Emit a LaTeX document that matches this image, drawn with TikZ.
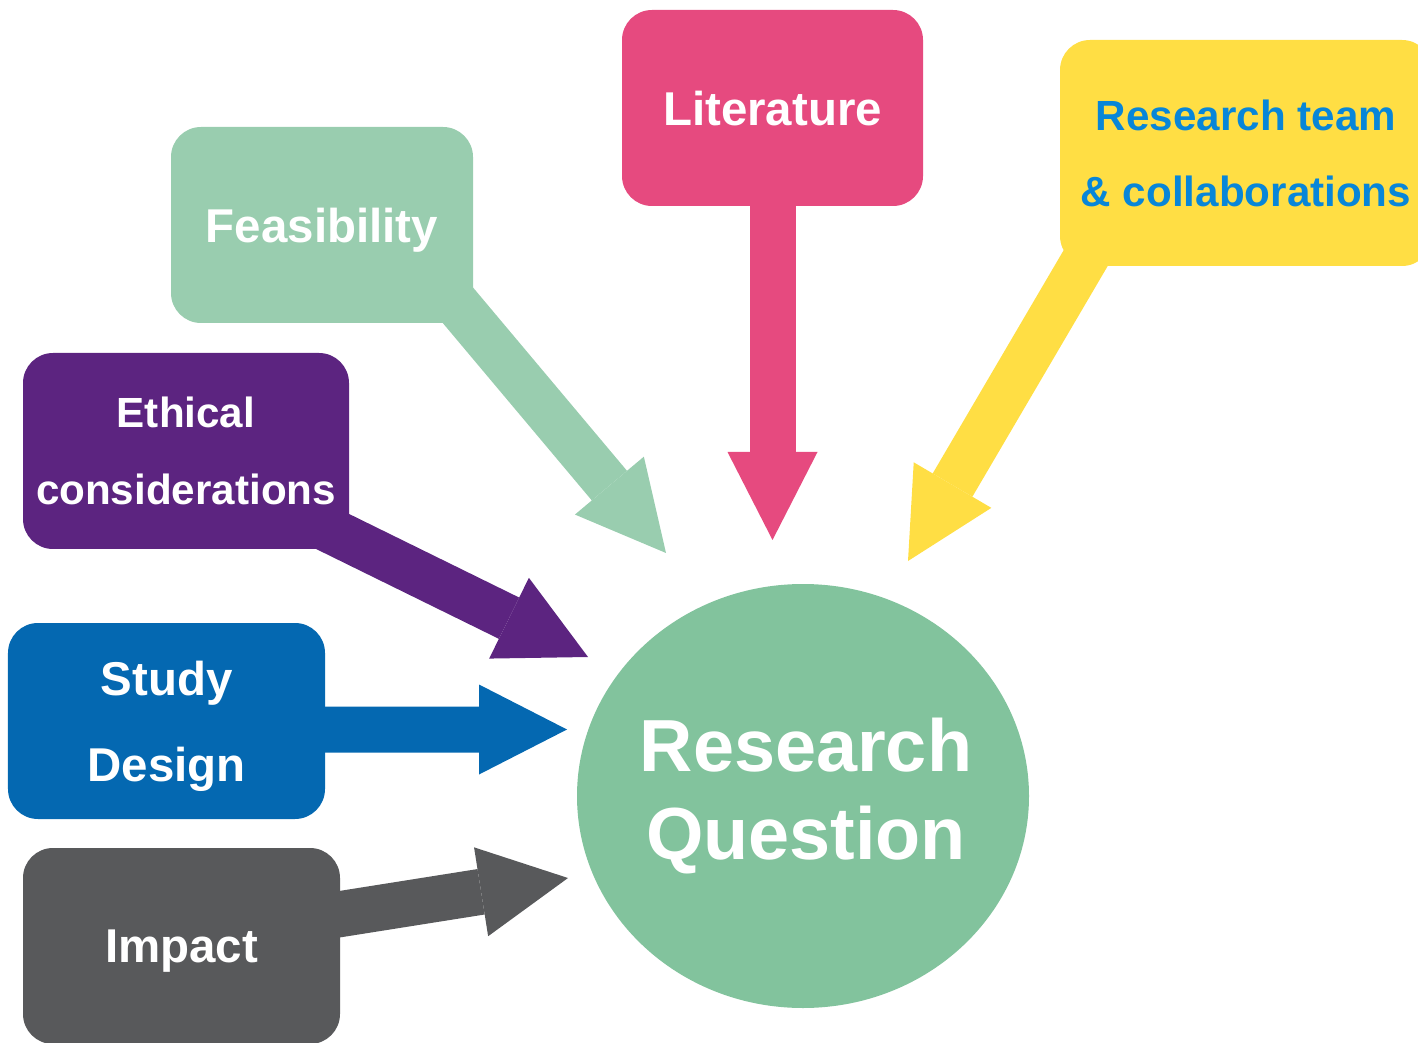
\documentclass[tikz,border=0pt]{standalone}
\usepackage{fontspec}
\setmainfont{Liberation Sans}
\usetikzlibrary{positioning, shapes.geometric, arrows.meta, backgrounds}
\definecolor{FeasGreen}{RGB}{153,205,175}
\definecolor{LitPink}{RGB}{230,74,127}
\definecolor{TeamYellow}{RGB}{255,222,68}
\definecolor{TeamBlue}{RGB}{8,134,216}
\definecolor{EthicPurple}{RGB}{92,36,128}
\definecolor{StudyBlue}{RGB}{4,104,177}
\definecolor{ImpactGrey}{RGB}{88,89,91}
\definecolor{QuestionGreen}{RGB}{130,195,157}

\begin{document}
\begin{tikzpicture}[
    box/.style={rounded corners=0.3cm, minimum width=3.02cm, minimum height=1.96cm,
                inner sep=0pt, align=center, text=white, text depth=0pt,
                font=\bfseries\fontsize{13.5}{24.5}\selectfont},
    flow/.style={line width=0.46cm, line cap=butt,
                 -{Triangle[length=0.88cm, width=0.9cm, line width=0pt]}}
  ]
  \useasboundingbox (0,0) rectangle (14.18,-10.43);

  % Factor boxes
  \node[box, fill=FeasGreen] (feas) at (3.22,-2.25) {Feasibility};
  \node[box, fill=LitPink, minimum width=3.01cm] (lit) at (7.725,-1.08) {Literature};
  \node[box, fill=TeamYellow, text=TeamBlue, minimum width=3.72cm, minimum height=2.26cm,
        font=\bfseries\fontsize{12}{21.6}\selectfont] (team) at (12.46,-1.53)
       {Research team\\\& collaborations};
  \node[box, fill=EthicPurple, minimum width=3.26cm,
        font=\bfseries\fontsize{12}{21.8}\selectfont] (ethic) at (1.86,-4.51)
       {Ethical\\considerations};
  \node[box, fill=StudyBlue, minimum width=3.17cm] (study) at (1.665,-7.21) {Study\\Design};
  \node[box, fill=ImpactGrey, minimum width=3.17cm] (impact) at (1.815,-9.46) {Impact};

  % Central question
  \node[ellipse, fill=QuestionGreen, minimum width=4.52cm, minimum height=4.24cm,
        inner sep=0pt] (rq) at (8.03,-7.96) {};
  \node[align=center, text=white, font=\bfseries\fontsize{21}{25}\selectfont]
       (rqtext) at ([xshift=0.03cm]rq) {Research\\Question};

  % Arrow tips
  \coordinate (feasTip) at (6.66,-5.53);
  \coordinate (litTip) at (7.725,-5.40);
  \coordinate (teamTip) at (9.08,-5.61);
  \coordinate (ethicTip) at (5.88,-6.57);
  \coordinate (studyTip) at (5.67,-7.295);
  \coordinate (impactTip) at (5.68,-8.78);

  % Block arrows, behind the boxes
  \begin{scope}[on background layer]
    \draw[flow, FeasGreen] ([shift={(-0.23,0.27)}]feas.south east) -- (feasTip);
    \draw[flow, LitPink] ([yshift=0.2cm]lit.south) -- (litTip);
    \draw[flow, TeamYellow] ([shift={(0.36,0.25)}]team.south west) -- (teamTip);
    \draw[flow, EthicPurple] ([shift={(-0.37,0.28)}]ethic.south east) -- (ethicTip);
    \draw[flow, StudyBlue] ([shift={(-0.25,-0.085)}]study.east) -- (studyTip);
    \draw[flow, ImpactGrey] ([shift={(-0.25,0.28)}]impact.east) -- (impactTip);
  \end{scope}
\end{tikzpicture}
\end{document}
